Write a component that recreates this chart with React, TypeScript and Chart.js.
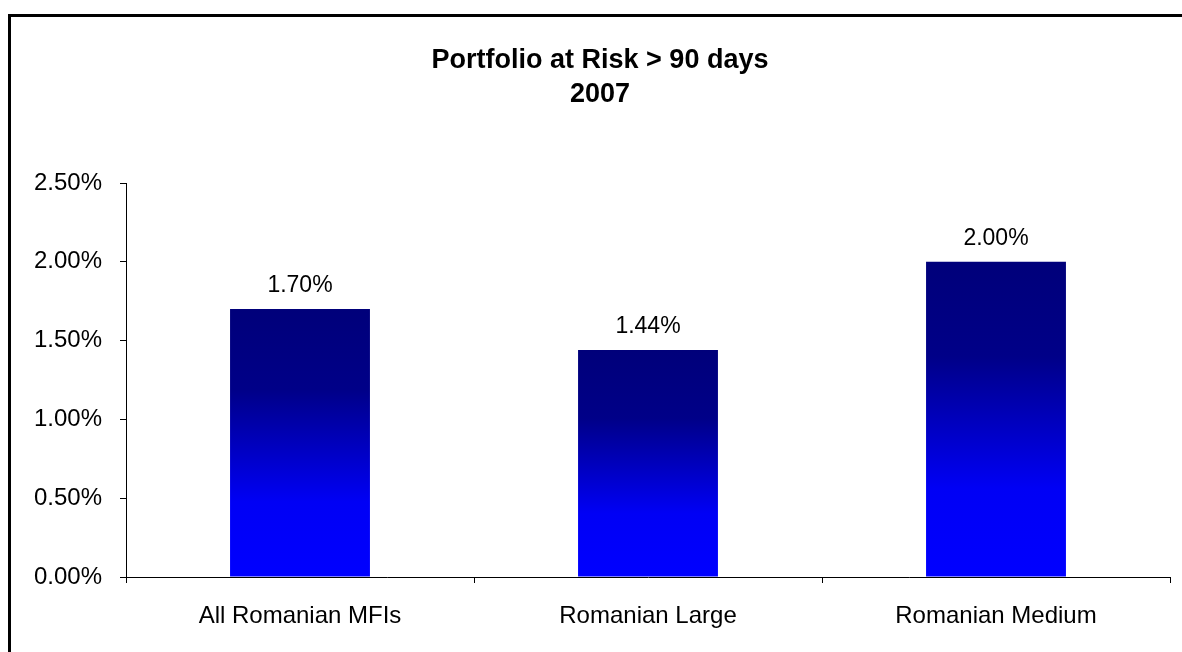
import React, { useEffect, useRef } from "react";
import { Chart, registerables } from "chart.js";

Chart.register(...registerables);

const categories = ["All Romanian MFIs", "Romanian Large", "Romanian Medium"];
const values = [1.7, 1.44, 2.0];
const titleLines = ["Portfolio at Risk > 90 days", "2007"];
const yTicks = [0, 0.5, 1, 1.5, 2, 2.5];

const FONT = "'Liberation Sans', Arial, sans-serif";

const framePlugin = {
  id: "frame",
  beforeDraw(chart: any) {
    const c = chart.ctx;
    c.save();
    c.fillStyle = "#ffffff";
    c.fillRect(0, 0, chart.width, chart.height);
    c.fillStyle = "#000000";
    c.fillRect(8, 14, 3, chart.height - 14);
    c.fillRect(8, 14, chart.width - 8, 3);
    c.restore();
  },
};

const valueLabelPlugin = {
  id: "valueLabels",
  afterDatasetsDraw(chart: any) {
    const c = chart.ctx;
    const meta = chart.getDatasetMeta(0);
    c.save();
    c.fillStyle = "#000";
    c.font = `23px ${FONT}`;
    c.textAlign = "center";
    c.textBaseline = "middle";
    meta.data.forEach((bar: any, i: number) => {
      c.fillText(values[i].toFixed(2) + "%", bar.x, bar.y - 23);
    });
    c.restore();
  },
};

export default function App() {
  const ref = useRef<HTMLCanvasElement | null>(null);

  useEffect(() => {
    document.body.style.margin = "0";
    const canvas = ref.current!;
    const chart = new Chart(canvas, {
      type: "bar",
      data: {
        labels: categories,
        datasets: [
          {
            data: values,
            backgroundColor: (ctx: any) => {
              const ch = ctx.chart;
              const ys = ch.scales?.y;
              if (!ys || !ch.chartArea || ctx.dataIndex === undefined) return "#0000cc";
              const top = ys.getPixelForValue(values[ctx.dataIndex]);
              const bottom = ys.getPixelForValue(0);
              if (!isFinite(top) || !isFinite(bottom) || top === bottom) return "#0000cc";
              const g = ch.ctx.createLinearGradient(0, top, 0, bottom);
              g.addColorStop(0, "#00007a");
              g.addColorStop(0.3, "#000088");
              g.addColorStop(0.72, "#0000f5");
              g.addColorStop(1, "#0000ff");
              return g;
            },
            borderWidth: 0,
            categoryPercentage: 1,
            barPercentage: 0.402,
          },
        ],
      },
      options: {
        animation: false,
        responsive: false,
        devicePixelRatio: 1,
        layout: { padding: { left: 30, right: 12, top: 16, bottom: 0 } },
        plugins: {
          legend: { display: false },
          tooltip: { enabled: false },
          title: {
            display: true,
            text: titleLines,
            color: "#000",
            font: { family: FONT, size: 27, weight: "bold", lineHeight: 1.26 },
            padding: { top: 28, bottom: 71 },
          },
        },
        scales: {
          y: {
            min: 0,
            max: 2.5,
            afterFit: (s: any) => {
              s.width = 96;
            },
            afterBuildTicks: (s: any) => {
              s.ticks = yTicks.map((v) => ({ value: v }));
            },
            ticks: {
              color: "#000",
              font: { family: FONT, size: 24 },
              padding: 18,
              callback: (v: any) => Number(v).toFixed(2) + "%",
            },
            grid: {
              drawOnChartArea: false,
              drawTicks: true,
              tickLength: 6,
              color: "#000",
            },
            border: { display: true, color: "#000", width: 1 },
          },
          x: {
            offset: true,
            afterFit: (s: any) => {
              s.height = 75;
            },
            ticks: {
              color: "#000",
              font: { family: FONT, size: 24 },
              padding: 19,
            },
            grid: {
              offset: true,
              drawOnChartArea: false,
              drawTicks: true,
              tickLength: 6,
              color: "#000",
            },
            border: { display: true, color: "#000", width: 1 },
          },
        },
      },
      plugins: [framePlugin, valueLabelPlugin],
    } as any);
    chart.update();
    return () => chart.destroy();
  }, []);

  return (
    <div style={{ width: 1182, height: 652, overflow: "hidden" }}>
      <canvas ref={ref} width={1182} height={652} style={{ display: "block" }} />
    </div>
  );
}
